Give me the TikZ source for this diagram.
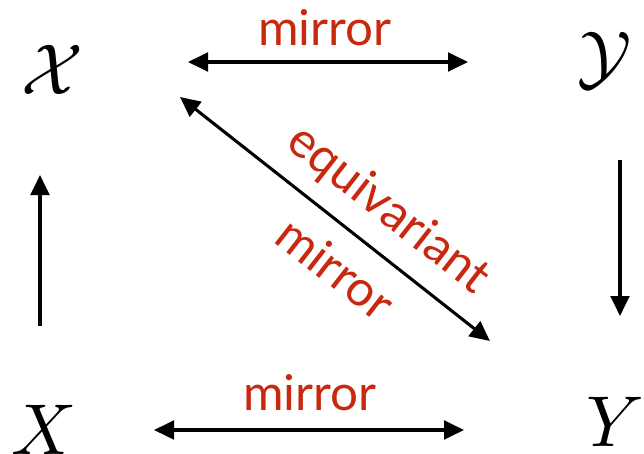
\documentclass[tikz,border=0pt]{standalone}
\usepackage{fontspec}
\newfontfamily\labelfont{Lato}
\usetikzlibrary{arrows.meta}
\definecolor{labelred}{RGB}{200,40,14}
\newcommand{\bigsym}[1]{\scalebox{5.4}{$#1$}}
\begin{document}
\begin{tikzpicture}[x=0.75pt,y=-0.75pt,
  arr/.style={line width=2.3pt,-{Triangle[length=15pt,width=14pt]}},
  darr/.style={line width=2.3pt,{Triangle[length=15pt,width=14pt]}-{Triangle[length=15pt,width=14pt]}},
  lbl/.style={text=labelred,font=\labelfont\fontsize{37}{40}\selectfont,inner sep=0pt},
  sym/.style={inner sep=0pt}]
\useasboundingbox (0,0) rectangle (644,454);
\node[sym] (cx) at (52,70) {\bigsym{\mathcal{X}}};
\node[sym] (cy) at (605,60) {\bigsym{\mathcal{Y}}};
\node[sym] (x) at (44,430) {\bigsym{X}};
\node[sym] (y) at (615,422) {\bigsym{Y}};
\coordinate (t1) at (188,62);
\coordinate (t2) at (468,62);
\coordinate (d1) at (180,97);
\coordinate (d2) at (490,341);
\coordinate (l1) at (40,326);
\coordinate (l2) at (40,175);
\coordinate (r1) at (620,160);
\coordinate (r2) at (620,316);
\coordinate (b1) at (154,430);
\coordinate (b2) at (464,430);
\draw[darr] (t1) -- (t2);
\draw[darr] (d1) -- (d2);
\draw[arr] (l1) -- (l2);
\draw[arr] (r1) -- (r2);
\draw[darr] (b1) -- (b2);
\node[lbl] (lt) at (325,28) {mirror};
\node[lbl] (lb) at (310,393) {mirror};
\node[lbl,rotate=-38] (le) at (388,210) {equivariant};
\node[lbl,rotate=-38] (lm) at (336,268) {mirror};
\end{tikzpicture}
\end{document}
